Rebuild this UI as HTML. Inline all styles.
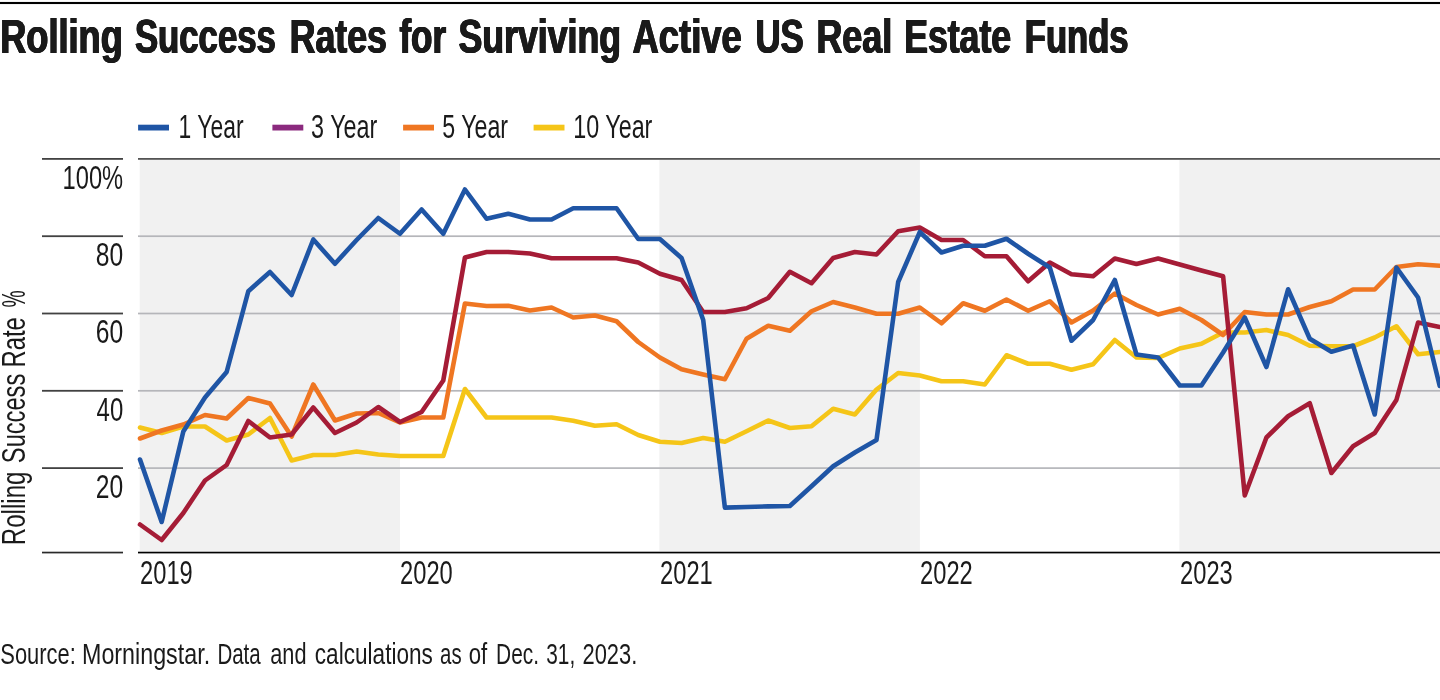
<!DOCTYPE html>
<html lang="en"><head><meta charset="utf-8"><title>Rolling Success Rates for Surviving Active US Real Estate Funds</title>
<style>html,body{margin:0;padding:0;background:#fff}body{width:1440px;height:700px;overflow:hidden}svg{display:block}text{font-family:"Liberation Sans",sans-serif}</style></head><body>
<svg width="1440" height="700" viewBox="0 0 1440 700">
<rect width="1440" height="700" fill="#fff"/>
<rect x="0" y="1.95" width="1440" height="2.1" fill="#000"/>
<g style="filter:drop-shadow(0.4px 0 0 #1a1a1a) drop-shadow(-0.4px 0 0 #1a1a1a)"><text transform="translate(0.66 53.46) scale(0.7451 1)" font-size="48.6" font-weight="bold" fill="#1a1a1a">Rolling</text> <text transform="translate(135.44 53.46) scale(0.7144 1)" font-size="48.6" font-weight="bold" fill="#1a1a1a">Success</text> <text transform="translate(290.20 53.46) scale(0.7341 1)" font-size="48.6" font-weight="bold" fill="#1a1a1a">Rates</text> <text transform="translate(399.90 53.46) scale(0.7200 1)" font-size="48.6" font-weight="bold" fill="#1a1a1a">for</text> <text transform="translate(458.92 53.46) scale(0.7346 1)" font-size="48.6" font-weight="bold" fill="#1a1a1a">Surviving</text> <text transform="translate(632.90 53.46) scale(0.7506 1)" font-size="48.6" font-weight="bold" fill="#1a1a1a">Active</text> <text transform="translate(755.97 53.46) scale(0.7169 1)" font-size="48.6" font-weight="bold" fill="#1a1a1a">US</text> <text transform="translate(816.94 53.46) scale(0.7381 1)" font-size="48.6" font-weight="bold" fill="#1a1a1a">Real</text> <text transform="translate(904.70 53.46) scale(0.7329 1)" font-size="48.6" font-weight="bold" fill="#1a1a1a">Estate</text> <text transform="translate(1025.26 53.46) scale(0.7123 1)" font-size="48.6" font-weight="bold" fill="#1a1a1a">Funds</text></g>
<rect x="139.7" y="160.0" width="260.3" height="390.9" fill="#f1f1f1"/>
<rect x="659.4" y="160.0" width="260.5" height="390.9" fill="#f1f1f1"/>
<rect x="1179.4" y="160.0" width="260.6" height="390.9" fill="#f1f1f1"/>
<rect x="138" y="235.35" width="1302" height="1.7" fill="#b5b6ba"/>
<rect x="138" y="312.65" width="1302" height="1.7" fill="#b5b6ba"/>
<rect x="138" y="389.95" width="1302" height="1.7" fill="#b5b6ba"/>
<rect x="138" y="467.25" width="1302" height="1.7" fill="#b5b6ba"/>
<rect x="138" y="158.00" width="1302" height="1.8" fill="#545454"/>
<rect x="42" y="158.00" width="81" height="1.8" fill="#424242"/>
<rect x="42" y="235.30" width="81" height="1.8" fill="#424242"/>
<rect x="42" y="312.60" width="81" height="1.8" fill="#424242"/>
<rect x="42" y="389.90" width="81" height="1.8" fill="#424242"/>
<rect x="42" y="467.20" width="81" height="1.8" fill="#424242"/>
<rect x="42" y="551.7" width="81" height="1.7" fill="#2a2a2a"/>
<rect x="138" y="551.7" width="1302" height="1.7" fill="#000"/>
<polyline fill="none" stroke="#f5c518" stroke-width="4.6" stroke-linejoin="round" stroke-linecap="round" points="140.00,427.50 161.66,433.00 183.32,426.50 204.99,426.50 226.65,440.50 248.31,434.50 269.97,418.00 291.63,460.50 313.30,455.00 334.96,455.00 356.62,451.50 378.28,454.50 399.94,456.00 421.61,456.00 443.27,456.00 464.93,389.00 486.59,417.50 508.25,417.50 529.92,417.50 551.58,417.50 573.24,420.75 594.90,425.75 616.56,424.25 638.23,435.00 659.89,441.75 681.55,443.00 703.21,438.00 724.87,441.75 746.54,431.25 768.20,420.50 789.86,428.00 811.52,426.25 833.18,408.75 854.85,414.50 876.51,389.50 898.17,373.00 919.83,375.50 941.49,381.25 963.16,381.25 984.82,384.50 1006.48,355.25 1028.14,363.75 1049.80,363.75 1071.47,369.75 1093.13,364.25 1114.79,340.00 1136.45,357.50 1158.11,358.00 1179.78,348.50 1201.44,343.75 1223.10,332.50 1244.76,332.50 1266.42,330.00 1288.09,335.00 1309.75,345.75 1331.41,346.25 1353.07,346.25 1374.73,337.50 1396.40,326.25 1418.06,354.25 1439.72,352.00"/>
<polyline fill="none" stroke="#ef7622" stroke-width="4.6" stroke-linejoin="round" stroke-linecap="round" points="140.00,438.50 161.66,430.50 183.32,424.50 204.99,415.00 226.65,418.50 248.31,398.00 269.97,403.50 291.63,436.50 313.30,384.50 334.96,420.50 356.62,413.50 378.28,413.00 399.94,422.50 421.61,417.50 443.27,417.50 464.93,303.50 486.59,306.00 508.25,305.75 529.92,310.50 551.58,307.50 573.24,317.50 594.90,315.50 616.56,321.25 638.23,342.00 659.89,357.50 681.55,369.25 703.21,374.50 724.87,379.25 746.54,338.75 768.20,325.75 789.86,330.75 811.52,311.25 833.18,302.00 854.85,307.50 876.51,313.75 898.17,313.75 919.83,307.50 941.49,323.25 963.16,303.25 984.82,310.75 1006.48,299.50 1028.14,310.75 1049.80,301.25 1071.47,322.50 1093.13,310.50 1114.79,293.50 1136.45,305.00 1158.11,314.50 1179.78,308.75 1201.44,320.00 1223.10,335.00 1244.76,312.00 1266.42,314.50 1288.09,314.50 1309.75,307.00 1331.41,301.25 1353.07,289.50 1374.73,289.50 1396.40,267.00 1418.06,264.25 1439.72,265.75"/>
<polyline fill="none" stroke="#a51c36" stroke-width="4.6" stroke-linejoin="round" stroke-linecap="round" points="140.00,524.50 161.66,540.00 183.32,513.00 204.99,480.50 226.65,465.00 248.31,421.00 269.97,437.50 291.63,434.50 313.30,407.50 334.96,433.00 356.62,422.50 378.28,407.00 399.94,422.00 421.61,412.00 443.27,380.50 464.93,257.50 486.59,252.00 508.25,252.00 529.92,253.50 551.58,258.25 573.24,258.25 594.90,258.25 616.56,258.25 638.23,262.50 659.89,273.75 681.55,280.00 703.21,312.00 724.87,312.00 746.54,308.25 768.20,298.00 789.86,271.75 811.52,283.25 833.18,258.00 854.85,252.00 876.51,254.50 898.17,231.25 919.83,227.50 941.49,240.00 963.16,240.00 984.82,256.25 1006.48,256.25 1028.14,281.25 1049.80,262.50 1071.47,274.25 1093.13,276.25 1114.79,258.50 1136.45,264.00 1158.11,258.50 1179.78,264.50 1201.44,270.50 1223.10,276.25 1244.76,495.50 1266.42,437.50 1288.09,416.25 1309.75,403.25 1331.41,473.00 1353.07,446.25 1374.73,433.00 1396.40,400.00 1418.06,322.50 1439.72,327.00"/>
<polyline fill="none" stroke="#1f55a5" stroke-width="4.6" stroke-linejoin="round" stroke-linecap="round" points="140.00,459.50 161.66,522.00 183.32,431.50 204.99,397.50 226.65,372.00 248.31,291.25 269.97,272.00 291.63,295.00 313.30,239.50 334.96,263.75 356.62,240.00 378.28,218.00 399.94,233.75 421.61,209.50 443.27,233.75 464.93,189.50 486.59,218.75 508.25,213.75 529.92,219.50 551.58,219.50 573.24,208.25 594.90,208.25 616.56,208.25 638.23,239.00 659.89,239.00 681.55,258.00 703.21,320.00 724.87,507.60 746.54,507.00 768.20,506.40 789.86,506.00 811.52,486.25 833.18,466.25 854.85,452.50 876.51,440.00 898.17,282.00 919.83,232.00 941.49,252.50 963.16,245.75 984.82,245.75 1006.48,238.75 1028.14,253.75 1049.80,267.50 1071.47,340.75 1093.13,320.00 1114.79,280.00 1136.45,354.50 1158.11,357.50 1179.78,385.50 1201.44,385.50 1223.10,352.50 1244.76,317.50 1266.42,367.00 1288.09,289.25 1309.75,338.75 1331.41,351.75 1353.07,345.50 1374.73,414.50 1396.40,267.50 1418.06,297.50 1439.72,386.00"/>
<rect x="138.1" y="124.7" width="30.9" height="5.8" fill="#1f55a5"/>
<rect x="272.4" y="124.7" width="30.9" height="5.8" fill="#8b2a7e"/>
<rect x="403.1" y="124.7" width="30.9" height="5.8" fill="#ef7622"/>
<rect x="533.6" y="124.7" width="30.9" height="5.8" fill="#f5c518"/>
<g opacity="0.999"><text transform="translate(178.60 137.75) scale(0.7022 1)" font-size="32.6" font-weight="normal" fill="#1a1a1a">1 Year</text>
<text transform="translate(311.08 137.75) scale(0.7174 1)" font-size="32.6" font-weight="normal" fill="#1a1a1a">3 Year</text>
<text transform="translate(442.19 137.75) scale(0.7130 1)" font-size="32.6" font-weight="normal" fill="#1a1a1a">5 Year</text>
<text transform="translate(573.27 137.75) scale(0.7157 1)" font-size="32.6" font-weight="normal" fill="#1a1a1a">10 Year</text>
<text transform="translate(62.55 188.80) scale(0.7268 1)" font-size="32.6" font-weight="normal" fill="#1a1a1a">100%</text>
<text transform="translate(95.84 266.10) scale(0.7562 1)" font-size="32.6" font-weight="normal" fill="#1a1a1a">80</text>
<text transform="translate(95.84 343.40) scale(0.7562 1)" font-size="32.6" font-weight="normal" fill="#1a1a1a">60</text>
<text transform="translate(96.60 420.70) scale(0.7347 1)" font-size="32.6" font-weight="normal" fill="#1a1a1a">40</text>
<text transform="translate(95.84 498.00) scale(0.7562 1)" font-size="32.6" font-weight="normal" fill="#1a1a1a">20</text>
<text transform="translate(140.02 583.50) scale(0.7277 1)" font-size="32.6" font-weight="normal" fill="#1a1a1a">2019</text>
<text transform="translate(400.02 583.50) scale(0.7277 1)" font-size="32.6" font-weight="normal" fill="#1a1a1a">2020</text>
<text transform="translate(660.02 583.50) scale(0.7277 1)" font-size="32.6" font-weight="normal" fill="#1a1a1a">2021</text>
<text transform="translate(920.02 583.50) scale(0.7277 1)" font-size="32.6" font-weight="normal" fill="#1a1a1a">2022</text>
<text transform="translate(1180.02 583.50) scale(0.7277 1)" font-size="32.6" font-weight="normal" fill="#1a1a1a">2023</text>
<text transform="translate(0.34 664.30) scale(0.7555 1)" font-size="29.0" font-weight="normal" fill="#1a1a1a">Source:</text> <text transform="translate(81.99 664.30) scale(0.8031 1)" font-size="29.0" font-weight="normal" fill="#1a1a1a">Morningstar.</text> <text transform="translate(217.39 664.30) scale(0.7052 1)" font-size="29.0" font-weight="normal" fill="#1a1a1a">Data</text> <text transform="translate(270.25 664.30) scale(0.7502 1)" font-size="29.0" font-weight="normal" fill="#1a1a1a">and</text> <text transform="translate(314.82 664.30) scale(0.7792 1)" font-size="29.0" font-weight="normal" fill="#1a1a1a">calculations</text> <text transform="translate(440.05 664.30) scale(0.7038 1)" font-size="29.0" font-weight="normal" fill="#1a1a1a">as</text> <text transform="translate(468.73 664.30) scale(0.7667 1)" font-size="29.0" font-weight="normal" fill="#1a1a1a">of</text> <text transform="translate(496.06 664.30) scale(0.7198 1)" font-size="29.0" font-weight="normal" fill="#1a1a1a">Dec.</text> <text transform="translate(546.28 664.30) scale(0.7180 1)" font-size="29.0" font-weight="normal" fill="#1a1a1a">31,</text> <text transform="translate(582.49 664.30) scale(0.7552 1)" font-size="29.0" font-weight="normal" fill="#1a1a1a">2023.</text></g>
<g opacity="0.999" transform="translate(25.0 545) rotate(-90)"><text transform="translate(-0.18 0.00) scale(0.7390 1)" font-size="32.6" font-weight="normal" fill="#1a1a1a">Rolling</text> <text transform="translate(81.87 0.00) scale(0.7256 1)" font-size="32.6" font-weight="normal" fill="#1a1a1a">Success</text> <text transform="translate(177.54 0.00) scale(0.7306 1)" font-size="32.6" font-weight="normal" fill="#1a1a1a">Rate</text> <text transform="translate(237.41 0.00) scale(0.5926 1)" font-size="32.6" font-weight="normal" fill="#1a1a1a">%</text></g>
</svg></body></html>
